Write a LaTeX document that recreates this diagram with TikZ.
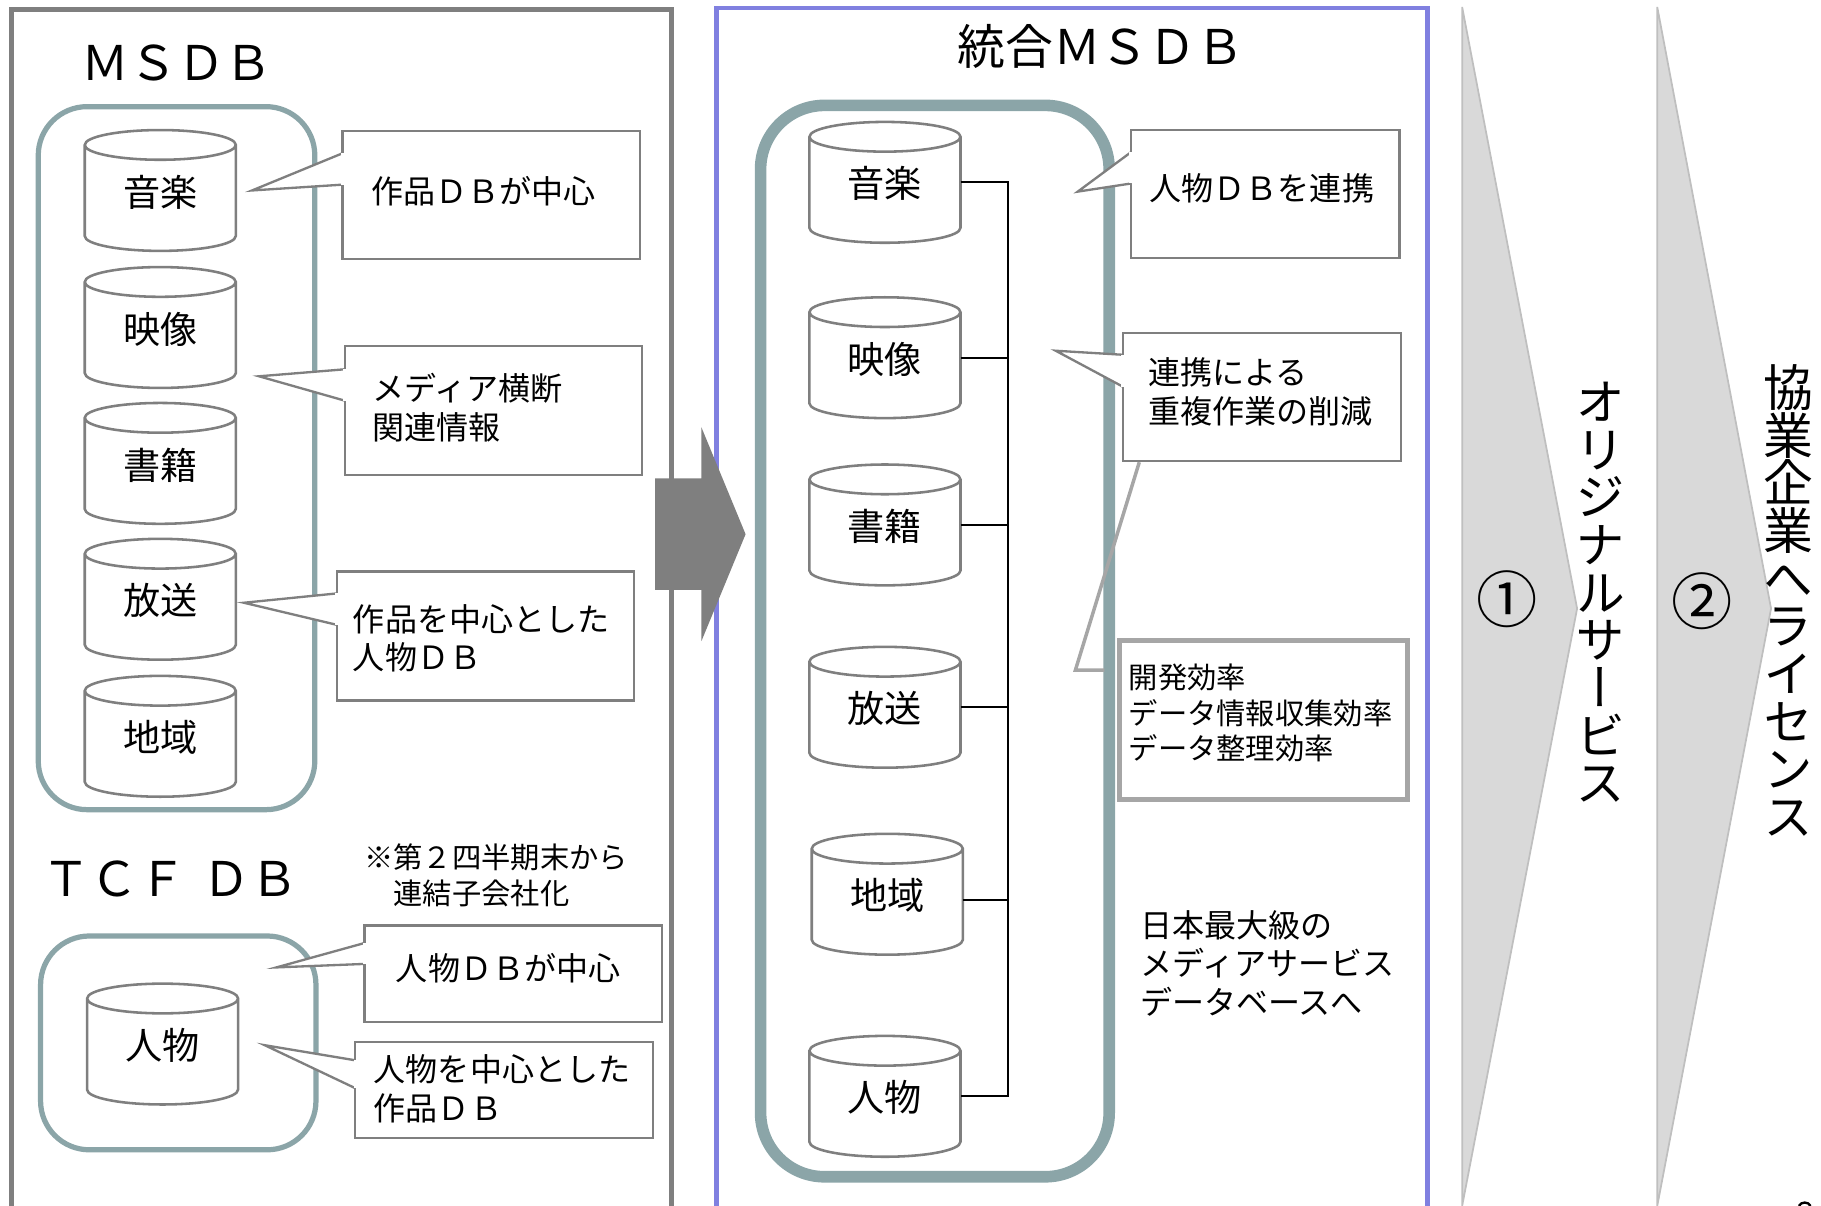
\documentclass[tikz,border=0pt]{standalone}
\usepackage{fontspec}
\setmainfont{Noto Sans CJK JP}
\newfontfamily\vertfont[Vertical=Alternates]{Noto Sans CJK JP}
\usetikzlibrary{positioning,shapes.geometric}

\definecolor{framegray}{HTML}{7F7F7F}
\definecolor{frameblue}{HTML}{8080E0}
\definecolor{groupteal}{HTML}{8BA5A8}
\definecolor{chevgray}{HTML}{D9D9D9}
\definecolor{chevedge}{HTML}{BFBFBF}
\definecolor{lightline}{HTML}{A6A6A6}

\newcommand{\titlefont}{\fontsize{11.7}{13}\selectfont}
\newcommand{\dbfont}{\fontsize{9.1}{11}\selectfont}
\newcommand{\notefont}{\fontsize{7.85}{9.4}\selectfont}
\newcommand{\smallnotefont}{\fontsize{7.17}{8.7}\selectfont}

\tikzset{
    dbcyl/.style={cylinder, shape border rotate=90, anchor=shape center, draw=framegray, fill=white, line width=.022cm, shape aspect=.4, minimum width=1.3cm, minimum height=1.04cm, inner sep=0, outer sep=0, text depth=.14cm, font=\dbfont},
    notebox/.style={draw=framegray, fill=white, line width=.02cm, inner sep=0, outer sep=0, align=left, font=\notefont},
    notelift/.style={execute at end node={\par\vspace{#1}}},
    notetail/.style={draw=framegray, fill=white, line width=.02cm, line join=miter},
    tailgap/.style={draw=white, line width=.03cm},
    grouprect/.style={rectangle, draw=groupteal, line width=.045cm, inner sep=0, rounded corners=.42cm},
    chevron/.style={draw=chevedge, fill=chevgray, line width=.015cm},
    vertlabel/.style={inner sep=0, align=center, font={\vertfont\fontsize{12.2}{11.67}\selectfont}},
}

\begin{document}
\begin{tikzpicture}[x=0.01cm, y=-0.01cm]
    \useasboundingbox (0,0) rectangle (1568,1038.4);

    % frames
    \draw[framegray, line width=.04cm] (10,1038.4) -- (10,8) -- (578,8) -- (578,1038.4);
    \draw[frameblue, line width=.04cm] (617,1038.4) -- (617,7) -- (1229,7) -- (1229,1038.4);
    \fill[framegray] (564,412) -- (604,412) -- (604,368) -- (642,460) -- (604,552) -- (604,508) -- (564,508) -- cycle;
    \draw[chevron] (1259,6) -- (1358,524) -- (1259,1038.4) -- cycle;
    \draw[chevron] (1427,6) -- (1525,524) -- (1427,1038.4) -- cycle;

    % titles
    \node[font=\titlefont, inner sep=0] (msdbTitle) at (152.5,54) {ＭＳＤＢ};
    \node[font=\titlefont, inner sep=0, anchor=west] (tcfTitle) at (36,757) {ＴＣＦ\hspace{.05cm} ＤＢ};
    \node[font=\titlefont, inner sep=0] (uniTitle) at (948,40) {統合ＭＳＤＢ};

    % left groups
    \node[grouprect, minimum width=2.38cm, minimum height=6.05cm] (msdbGroup) at (152,394.5) {};
    \node[grouprect, minimum width=2.37cm, minimum height=1.84cm] (tcfGroup) at (153.5,898) {};

    \node[dbcyl] (dbMusic) at (138,164) {音楽};
    \node[dbcyl] (dbVideo) at (138,282) {映像};
    \node[dbcyl] (dbBook) at (138,399) {書籍};
    \node[dbcyl] (dbRadio) at (138,516) {放送};
    \node[dbcyl] (dbArea) at (138,634) {地域};
    \node[dbcyl] (dbPerson) at (140,899) {人物};

    % left notes
    \node[notebox, notelift=.06cm, text width=2.06cm, inner xsep=.25cm, minimum height=1.10cm] (noteWork) at (423,168) {作品ＤＢが中心};
    \coordinate (tipWork) at (217,164);
    \draw[notetail] ([yshift=-.19cm]noteWork.north west) -- (tipWork) -- ([yshift=-.46cm]noteWork.north west);
    \draw[tailgap] ([yshift=-.19cm]noteWork.north west) -- ([yshift=-.46cm]noteWork.north west);

    \node[notebox, notelift=.05cm, text width=2.08cm, inner xsep=.24cm, minimum height=1.11cm] (noteMedia) at (425,353.5) {メディア横断\\関連情報};
    \coordinate (tipMedia) at (223,324);
    \draw[notetail] ([yshift=-.20cm]noteMedia.north west) -- (tipMedia) -- ([yshift=-.47cm]noteMedia.north west);
    \draw[tailgap] ([yshift=-.20cm]noteMedia.north west) -- ([yshift=-.47cm]noteMedia.north west);

    \node[notebox, notelift=-.04cm, text width=2.28cm, inner xsep=.14cm, minimum height=1.11cm] (notePeople) at (418,547.5) {作品を中心とした\\人物ＤＢ};
    \coordinate (tipPeople) at (210,519);
    \draw[notetail] ([yshift=-.19cm]notePeople.north west) -- (tipPeople) -- ([yshift=-.46cm]notePeople.north west);
    \draw[tailgap] ([yshift=-.19cm]notePeople.north west) -- ([yshift=-.46cm]notePeople.north west);

    \node[font=\smallnotefont, inner sep=0, align=left, anchor=west] (noteTcf) at (313,753.5) {※第２四半期末から\\　連結子会社化};

    \node[notebox, notelift=.10cm, text width=2.02cm, inner xsep=.27cm, minimum height=.83cm] (notePerson) at (442,838.5) {人物ＤＢが中心};
    \coordinate (tipPerson) at (238,833);
    \draw[notetail] ([yshift=-.15cm]notePerson.north west) -- (tipPerson) -- ([yshift=-.33cm]notePerson.north west);
    \draw[tailgap] ([yshift=-.15cm]notePerson.north west) -- ([yshift=-.33cm]notePerson.north west);

    \node[notebox, notelift=.02cm, text width=2.24cm, inner xsep=.16cm, minimum height=.83cm] (noteWorks) at (434,938.5) {人物を中心とした\\作品ＤＢ};
    \coordinate (tipWorks) at (228,900);
    \draw[notetail] ([yshift=-.16cm]noteWorks.north west) -- (tipWorks) -- ([yshift=-.40cm]noteWorks.north west);
    \draw[tailgap] ([yshift=-.16cm]noteWorks.north west) -- ([yshift=-.40cm]noteWorks.north west);

    % merged group
    \node[grouprect, line width=.1cm, rounded corners=.55cm, minimum width=3.00cm, minimum height=9.22cm] (uniGroup) at (805,552) {};

    \node[dbcyl] (uniMusic) at (762,157) {音楽};
    \node[dbcyl] (uniVideo) at (762,308) {映像};
    \node[dbcyl] (uniBook) at (762,452) {書籍};
    \node[dbcyl] (uniRadio) at (762,609) {放送};
    \node[dbcyl] (uniArea) at (764,770) {地域};
    \node[dbcyl] (uniPerson) at (762,944) {人物};

    \coordinate (busTop) at (868,157);
    \coordinate (busBottom) at (868,944);
    \draw[line width=.016cm] (uniMusic.shape center -| uniMusic.east) -- (busTop) -- (busBottom) -- (uniPerson.shape center -| uniPerson.east);
    \draw[line width=.016cm] (uniVideo.shape center -| uniVideo.east) -- (uniVideo.shape center -| busTop);
    \draw[line width=.016cm] (uniBook.shape center -| uniBook.east) -- (uniBook.shape center -| busTop);
    \draw[line width=.016cm] (uniRadio.shape center -| uniRadio.east) -- (uniRadio.shape center -| busTop);
    \draw[line width=.016cm] ([yshift=-.05cm]uniArea.shape center -| uniArea.east) -- ([yshift=-.05cm]uniArea.shape center -| busTop);

    % right notes
    \node[notebox, notelift=.10cm, text width=1.99cm, inner xsep=.16cm, minimum height=1.10cm] (noteLink) at (1089.5,167) {人物ＤＢを連携};
    \coordinate (tipLink) at (928,165);
    \draw[notetail] ([yshift=-.19cm]noteLink.north west) -- (tipLink) -- ([yshift=-.46cm]noteLink.north west);
    \draw[tailgap] ([yshift=-.19cm]noteLink.north west) -- ([yshift=-.46cm]noteLink.north west);

    \node[notebox, notelift=.09cm, text width=1.95cm, inner xsep=.22cm, minimum height=1.10cm] (noteReduce) at (1086.5,342) {連携による\\重複作業の削減};
    \coordinate (tipReduce) at (909,302);
    \draw[notetail] ([yshift=-.185cm]noteReduce.north west) -- (tipReduce) -- ([yshift=-.46cm]noteReduce.north west);
    \draw[tailgap] ([yshift=-.185cm]noteReduce.north west) -- ([yshift=-.46cm]noteReduce.north west);

    \node[notebox, notelift=.12cm, draw=lightline, line width=.04cm, font=\smallnotefont, text width=2.32cm, inner xsep=.08cm, minimum height=1.37cm] (noteEffect) at (1088,620) {開発効率\\データ情報収集効率\\データ整理効率};
    \coordinate (tipEffect) at (981,398);
    \coordinate (bendEffect) at (926,577);
    \coordinate (endEffect) at (951,577);
    \draw[lightline, line width=.03cm] (tipEffect) -- (bendEffect) -- (endEffect);

    \node[font=\notefont, inner sep=0, align=left, anchor=west] (noteTop) at (981,829.5) {日本最大級の\\メディアサービス\\データベースへ};

    % chevron labels
    \node[font=\fontsize{15}{17}\selectfont, inner sep=0] (markOne) at (1298,516) {①};
    \node[font=\fontsize{15}{17}\selectfont, inner sep=0] (markTwo) at (1466,518) {②};
    \node[vertlabel] (labelOriginal) at (1378,510) {オ\\リ\\ジ\\ナ\\ル\\サ\\ー\\ビ\\ス};
    \node[vertlabel] (labelLicense) at (1540,517) {協\\業\\企\\業\\へ\\ラ\\イ\\セ\\ン\\ス};

    % cut off page number
    \draw[line width=.02cm] (1549,1038.4) .. controls (1551,1034.5) and (1557,1034.5) .. (1559,1038.4);
\end{tikzpicture}
\end{document}
